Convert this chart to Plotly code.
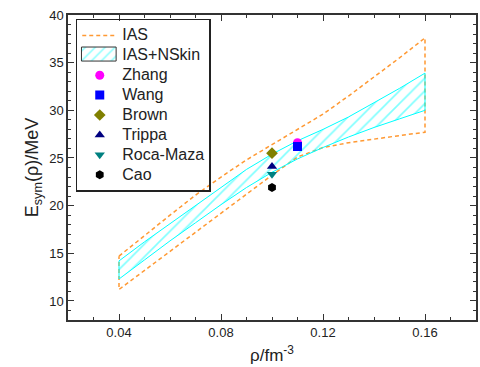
import plotly.graph_objects as go

# Density grid (fm^-3) for the constraint bands
rho = [0.04, 0.05, 0.06, 0.07, 0.08, 0.09, 0.10, 0.11, 0.12, 0.13, 0.14, 0.15, 0.16]

# IAS constraint: upper and lower bounds of E_sym (MeV)
ias_upper = [14.7, 16.9, 19.0, 21.1, 23.0, 24.8, 26.4, 28.0, 29.6, 31.5, 33.5, 35.5, 37.6]
ias_lower = [11.2, 13.2, 15.2, 17.2, 19.2, 21.2, 23.2, 25.1, 26.1, 26.6, 27.0, 27.35, 27.7]

# IAS + neutron skin constraint
nskin_upper = [14.2, 16.2, 18.1, 20.0, 21.9, 23.8, 25.4, 26.8, 28.0, 29.3, 30.8, 32.3, 33.9]
nskin_lower = [12.3, 14.3, 16.3, 18.2, 20.1, 21.9, 23.5, 24.9, 26.1, 27.2, 28.2, 29.1, 30.0]

# Individual results
names = ["Zhang", "Wang", "Brown", "Trippa", "Roca-Maza", "Cao"]
pt_rho = [0.11, 0.11, 0.10, 0.10, 0.10, 0.10]
pt_esym = [26.6, 26.2, 25.5, 24.1, 23.3, 21.9]
pt_colors = ["#FF00FF", "#0000FF", "#808000", "#000080", "#008080", "#000000"]
pt_symbols = ["circle", "square", "diamond", "triangle-up", "triangle-down", "hexagon"]

FONT = "Liberation Sans, Arial, sans-serif"
HATCH = dict(shape="/", fgcolor="#00FFFF", bgcolor="rgba(0,0,0,0)", size=9, solidity=0.18)


def legend_label(text):
    # larger glyphs while keeping compact legend rows
    return '<span style="font-size:16px">' + text + "</span>"


fig = go.Figure()

# Closed IAS band outline
fig.add_trace(go.Scatter(
    x=rho + rho[::-1] + [rho[0]],
    y=ias_upper + ias_lower[::-1] + [ias_upper[0]],
    mode="lines", name=legend_label("IAS"),
    line=dict(color="#FF9933", width=1.5, dash="4px,3px"),
))

# Legend label for the hatched band (its swatch is drawn on the overlay axes)
fig.add_trace(go.Scatter(
    x=[None], y=[None], mode="lines", name=legend_label("IAS+NSkin"),
    line=dict(color="rgba(0,0,0,0)", width=0),
))

# Hatched IAS+NSkin band
fig.add_trace(go.Scatter(
    x=rho + rho[::-1] + [rho[0]],
    y=nskin_upper + nskin_lower[::-1] + [nskin_upper[0]],
    mode="lines", fill="toself", showlegend=False,
    line=dict(color="#00FFFF", width=1), fillcolor="rgba(0,0,0,0)", fillpattern=HATCH,
))

for n, x, y, c, s in zip(names, pt_rho, pt_esym, pt_colors, pt_symbols):
    fig.add_trace(go.Scatter(
        x=[x], y=[y], mode="markers", name=legend_label(n),
        marker=dict(color=c, symbol=s, size=9, line=dict(width=0)),
    ))

# Hatched swatch for the legend, in plot-fraction coordinates
sw_x = [0.033, 0.118, 0.118, 0.033, 0.033]
sw_y = [0.895, 0.895, 0.849, 0.849, 0.895]
fig.add_trace(go.Scatter(
    x=sw_x, y=sw_y, xaxis="x2", yaxis="y2", mode="lines", fill="toself",
    showlegend=False, hoverinfo="skip",
    line=dict(color="#333333", width=1), fillcolor="white",
    fillpattern=dict(shape="/", fgcolor="#00FFFF", bgcolor="white", size=7, solidity=0.2),
))

axis_common = dict(
    showline=True, linecolor="#333333", linewidth=1.5, mirror="allticks",
    ticks="inside", ticklen=6, tickwidth=1.2, tickcolor="#333333",
    showgrid=False, zeroline=False,
    tickfont=dict(family=FONT, size=13, color="#222222"),
)

fig.update_xaxes(
    range=[0.02, 0.18], tickvals=[0.04, 0.08, 0.12, 0.16],
    ticktext=["0.04", "0.08", "0.12", "0.16"],
    minor=dict(ticks="inside", ticklen=3, dtick=0.01, tick0=0, tickcolor="#333333"),
    title=dict(text="ρ/fm<sup>-3</sup>", font=dict(family=FONT, size=17, color="#222222"), standoff=10),
    **axis_common,
)
fig.update_yaxes(
    range=[8, 40], tickvals=[10, 15, 20, 25, 30, 35, 40],
    minor=dict(ticks="inside", ticklen=3, dtick=1, tick0=0, tickcolor="#333333"),
    title=dict(text="E<sub>sym</sub>(ρ)/MeV", font=dict(family=FONT, size=18, color="#222222"), standoff=6),
    **axis_common,
)

fig.update_layout(
    width=480, height=367,
    margin=dict(l=68, r=2, t=15, b=47),
    plot_bgcolor="white", paper_bgcolor="white",
    xaxis2=dict(overlaying="x", range=[0, 1], visible=False, fixedrange=True),
    yaxis2=dict(overlaying="y", range=[0, 1], visible=False, fixedrange=True),
    legend=dict(
        x=0.019, y=0.987, xanchor="left", yanchor="top",
        bgcolor="rgba(0,0,0,0)", bordercolor="#222222", borderwidth=1.5,
        font=dict(family=FONT, size=13, color="#222222"),
        itemwidth=35, tracegroupgap=0,
    ),
)

fig.write_html("out.html")
